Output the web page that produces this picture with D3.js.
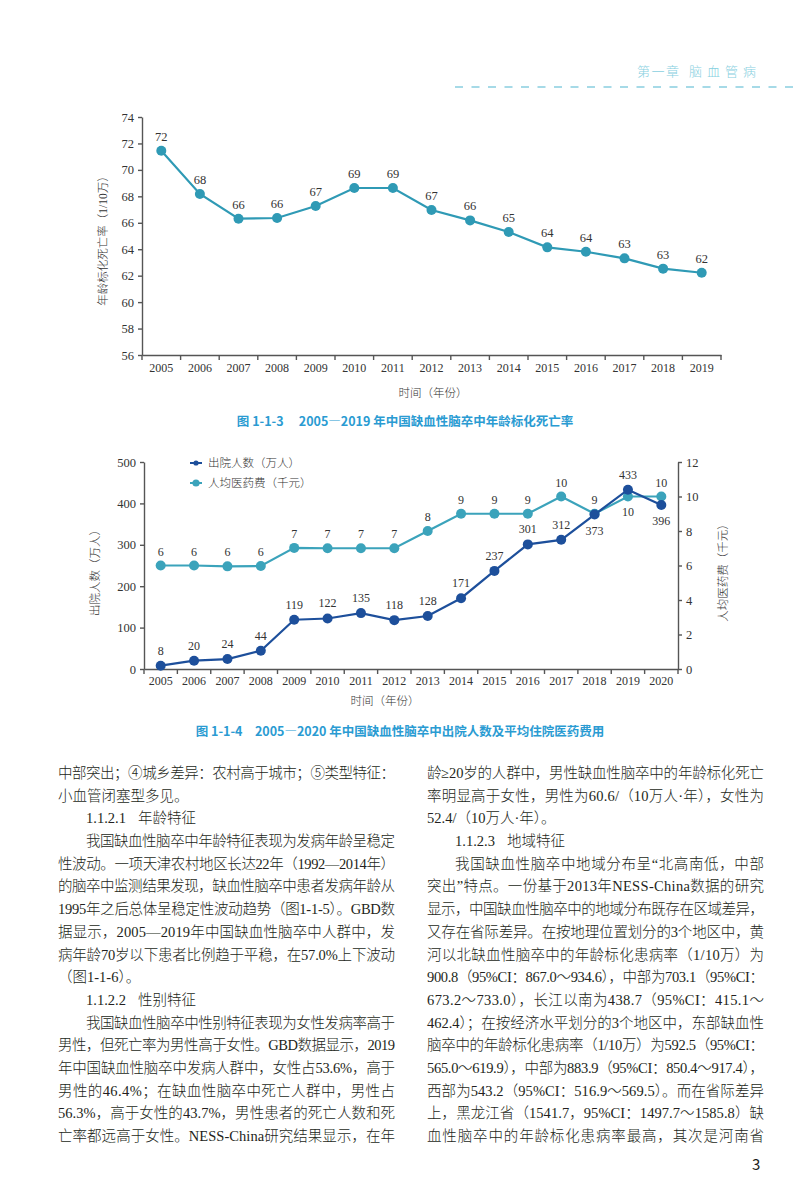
<!DOCTYPE html>
<html lang="zh-CN"><head><meta charset="utf-8">
<script src="https://cdn.jsdelivr.net/npm/d3@7"></script>
<style>
html,body{margin:0;padding:0;background:#fff;}
svg{display:block;}
</style></head><body>
<svg id="page" width="800" height="1200"></svg>
<script>
// ---------- DATA ----------
const years1 = [2005,2006,2007,2008,2009,2010,2011,2012,2013,2014,2015,2016,2017,2018,2019];
const rate1 = [71.45,68.18,66.31,66.36,67.27,68.63,68.63,66.97,66.18,65.30,64.14,63.81,63.31,62.53,62.22];
const rateLabels1 = ["72","68","66","66","67","69","69","67","66","65","64","64","63","63","62"];
const yTicks1 = [56,58,60,62,64,66,68,70,72,74];

const years2 = [2005,2006,2007,2008,2009,2010,2011,2012,2013,2014,2015,2016,2017,2018,2019,2020];
const discharged = [8,20,24,44,119,122,135,118,128,171,237,301,312,373,433,396];
const dischargedLabels = ["8","20","24","44","119","122","135","118","128","171","237","301","312","373","433","396"];
const cost = [6.0,6.0,5.95,5.97,7.02,7.0,7.0,7.0,8.0,9.0,9.0,9.0,10.0,9.0,10.0,10.0];
const costLabels = ["6","6","6","6","7","7","7","7","8","9","9","9","10","9","10","10"];
const yTicksLeft2 = [0,100,200,300,400,500];
const yTicksRight2 = [0,2,4,6,8,10,12];
const seriesNames2 = ["出院人数（万人）","人均医药费（千元）"];

// ---------- STYLE ----------
const SERIF = "'Liberation Serif','Times New Roman','Noto Sans CJK SC',serif";
const SANS = "'Noto Sans CJK SC','Noto Sans',sans-serif";
const TEAL = "#2f9ab5";
const TEAL2 = "#3ba3bb";
const BLUE = "#1d4f9b";
const AXIS = "#555";
const TXT = "#333";
const CAP = "#2a9bd2";

const svg = d3.select("#page");

// ---------- HEADER ----------
svg.append("text").attr("x",637).attr("y",70).attr("dominant-baseline","central")
  .style("font-family",SANS).style("font-size","13px").style("font-weight",300)
  .style("letter-spacing","1.5px").attr("fill","#86cfe0").text("第一章");
svg.append("text").attr("x",689).attr("y",70).attr("dominant-baseline","central")
  .style("font-family",SANS).style("font-size","13px").style("font-weight",300)
  .style("letter-spacing","5px").attr("fill","#86cfe0").text("脑血管病");
svg.append("line").attr("x1",455).attr("x2",800).attr("y1",87).attr("y2",87)
  .attr("stroke","#a6dae7").attr("stroke-width",2).attr("stroke-dasharray","8,8.5");

// ---------- CHART 1 ----------
(function(){
  const x = d3.scaleBand().domain(years1).range([142,721]);
  const y = d3.scaleLinear().domain([56,74]).range([355,117]);
  const g = svg.append("g");

  const ya = g.append("g").attr("transform","translate(142,0)")
    .call(d3.axisLeft(y).tickValues(yTicks1).tickSize(4).tickSizeOuter(0).tickPadding(4));
  ya.select(".domain").attr("stroke",AXIS).attr("stroke-width",1.4);
  ya.selectAll(".tick line").attr("stroke",AXIS).attr("stroke-width",1.4);
  ya.selectAll(".tick text").style("font-family",SERIF).style("font-size","12.5px").attr("fill",TXT);

  const xa = g.append("g").attr("transform","translate(0,355)")
    .call(d3.axisBottom(x).tickSize(0).tickSizeOuter(0).tickPadding(8));
  xa.select(".domain").attr("stroke",AXIS).attr("stroke-width",1.4);
  xa.selectAll(".tick text").style("font-family",SERIF).style("font-size","12px").attr("fill",TXT);
  const edges1 = years1.map(d=>x(d)).concat([x(years1[years1.length-1])+x.bandwidth()]);
  g.selectAll("line.xt").data(edges1).join("line").attr("class","xt")
    .attr("x1",d=>d).attr("x2",d=>d).attr("y1",355).attr("y2",360)
    .attr("stroke",AXIS).attr("stroke-width",1.4);

  const cx = d=>x(d)+x.bandwidth()/2;
  const line = d3.line().x((d,i)=>cx(years1[i])).y(d=>y(d));
  g.append("path").datum(rate1).attr("d",line).attr("fill","none").attr("stroke",TEAL).attr("stroke-width",2.2);
  g.selectAll("circle").data(rate1).join("circle")
    .attr("cx",(d,i)=>cx(years1[i])).attr("cy",d=>y(d)).attr("r",5).attr("fill",TEAL);
  g.selectAll("text.lbl").data(rate1).join("text").attr("class","lbl")
    .attr("x",(d,i)=>cx(years1[i])).attr("y",d=>y(d)-14).attr("text-anchor","middle")
    .attr("dominant-baseline","central")
    .style("font-family",SERIF).style("font-size","12.5px").attr("fill",TXT)
    .text((d,i)=>rateLabels1[i]);

  g.append("text").attr("transform","translate(103,238) rotate(-90)").attr("text-anchor","middle")
    .attr("dominant-baseline","central")
    .style("font-family",SERIF).style("font-size","11.5px").style("font-weight",300).attr("fill",TXT).text("年龄标化死亡率（1/10万）");
  g.append("text").attr("x",433).attr("y",393).attr("text-anchor","middle").attr("dominant-baseline","central")
    .style("font-family",SERIF).style("font-size","11.5px").style("font-weight",300).attr("fill",TXT).text("时间（年份）");
  g.append("text").attr("x",405).attr("y",420).attr("text-anchor","middle").attr("dominant-baseline","central")
    .style("font-family",SANS).style("font-size","12.5px").style("font-weight",700).attr("fill",CAP)
    .text("图 1-1-3　 2005—2019 年中国缺血性脑卒中年龄标化死亡率");
})();

// ---------- CHART 2 ----------
(function(){
  const x = d3.scaleBand().domain(years2).range([144,678]);
  const yL = d3.scaleLinear().domain([0,500]).range([669,462]);
  const yR = d3.scaleLinear().domain([0,12]).range([669,462]);
  const g = svg.append("g");

  const la = g.append("g").attr("transform","translate(144,0)")
    .call(d3.axisLeft(yL).tickValues(yTicksLeft2).tickSize(4).tickSizeOuter(0).tickPadding(4));
  const ra = g.append("g").attr("transform","translate(678,0)")
    .call(d3.axisRight(yR).tickValues(yTicksRight2).tickSize(4).tickSizeOuter(0).tickPadding(4));
  const xa = g.append("g").attr("transform","translate(0,669)")
    .call(d3.axisBottom(x).tickSize(0).tickSizeOuter(0).tickPadding(7));
  [la,ra,xa].forEach(a=>{
    a.select(".domain").attr("stroke",AXIS).attr("stroke-width",1.4);
    a.selectAll(".tick line").attr("stroke",AXIS).attr("stroke-width",1.4);
    a.selectAll(".tick text").style("font-family",SERIF).style("font-size","12.5px").attr("fill",TXT);
  });
  xa.selectAll(".tick text").style("font-size","12px");
  const edges2 = years2.map(d=>x(d)).concat([x(years2[years2.length-1])+x.bandwidth()]);
  g.selectAll("line.xt").data(edges2).join("line").attr("class","xt")
    .attr("x1",d=>d).attr("x2",d=>d).attr("y1",669).attr("y2",674)
    .attr("stroke",AXIS).attr("stroke-width",1.4);

  const cx = d=>x(d)+x.bandwidth()/2;

  // cost series (teal)
  g.append("path").datum(cost).attr("d",d3.line().x((d,i)=>cx(years2[i])).y(d=>yR(d)))
    .attr("fill","none").attr("stroke",TEAL2).attr("stroke-width",2.2);
  g.selectAll("circle.c").data(cost).join("circle").attr("class","c")
    .attr("cx",(d,i)=>cx(years2[i])).attr("cy",d=>yR(d)).attr("r",5).attr("fill",TEAL2);

  // discharged series (blue)
  g.append("path").datum(discharged).attr("d",d3.line().x((d,i)=>cx(years2[i])).y(d=>yL(d)))
    .attr("fill","none").attr("stroke",BLUE).attr("stroke-width",2.2);
  g.selectAll("circle.d").data(discharged).join("circle").attr("class","d")
    .attr("cx",(d,i)=>cx(years2[i])).attr("cy",d=>yL(d)).attr("r",5).attr("fill",BLUE);

  const belowD = new Set([2018,2020]);
  const belowC = new Set([2019]);
  g.selectAll("text.ld").data(discharged).join("text").attr("class","ld")
    .attr("x",(d,i)=>cx(years2[i]))
    .attr("y",(d,i)=>yL(d)+(belowD.has(years2[i])?16:-15))
    .attr("text-anchor","middle").attr("dominant-baseline","central")
    .style("font-family",SERIF).style("font-size","12px").attr("fill",TXT)
    .text((d,i)=>dischargedLabels[i]);
  g.selectAll("text.lc").data(cost).join("text").attr("class","lc")
    .attr("x",(d,i)=>cx(years2[i]))
    .attr("y",(d,i)=>yR(d)+(belowC.has(years2[i])?15:-14))
    .attr("text-anchor","middle").attr("dominant-baseline","central")
    .style("font-family",SERIF).style("font-size","12px").attr("fill",TXT)
    .text((d,i)=>costLabels[i]);

  // legend
  const leg = g.append("g");
  [[BLUE,2.6,463],[TEAL2,3.6,483]].forEach((s,i)=>{
    leg.append("line").attr("x1",190).attr("x2",202).attr("y1",s[2]).attr("y2",s[2])
      .attr("stroke",s[0]).attr("stroke-width",2);
    leg.append("circle").attr("cx",196).attr("cy",s[2]).attr("r",s[1]).attr("fill",s[0]);
    leg.append("text").attr("x",208).attr("y",s[2]).attr("dominant-baseline","central")
      .style("font-family",SERIF).style("font-size","11.5px").style("font-weight",300).attr("fill",TXT).text(seriesNames2[i]);
  });

  g.append("text").attr("transform","translate(95,570) rotate(-90)").attr("text-anchor","middle")
    .attr("dominant-baseline","central")
    .style("font-family",SERIF).style("font-size","11.5px").style("font-weight",300).attr("fill",TXT).text(seriesNames2[0]);
  g.append("text").attr("transform","translate(723,570) rotate(-90)").attr("text-anchor","middle")
    .attr("dominant-baseline","central")
    .style("font-family",SERIF).style("font-size","11.5px").style("font-weight",300).attr("fill",TXT).text(seriesNames2[1]);
  g.append("text").attr("x",385).attr("y",701).attr("text-anchor","middle").attr("dominant-baseline","central")
    .style("font-family",SERIF).style("font-size","11.5px").style("font-weight",300).attr("fill",TXT).text("时间（年份）");
  g.append("text").attr("x",400).attr("y",730).attr("text-anchor","middle").attr("dominant-baseline","central")
    .style("font-family",SANS).style("font-size","12.5px").style("font-weight",700).attr("fill",CAP)
    .text("图 1-1-4　2005—2020 年中国缺血性脑卒中出院人数及平均住院医药费用");
})();

// ---------- BODY TEXT ----------
const leftLines = [
  {t:"中部突出；④城乡差异：农村高于城市；⑤类型特征：",j:1},
  {t:"小血管闭塞型多见。"},
  {num:"1.1.2.1",t:"年龄特征"},
  {t:"我国缺血性脑卒中年龄特征表现为发病年龄呈稳定",ind:1,j:1},
  {t:"性波动。一项天津农村地区长达22年（1992—2014年）",j:1},
  {t:"的脑卒中监测结果发现，缺血性脑卒中患者发病年龄从",j:1},
  {t:"1995年之后总体呈稳定性波动趋势（图1-1-5）。GBD数",j:1},
  {t:"据显示，2005—2019年中国缺血性脑卒中人群中，发",j:1},
  {t:"病年龄70岁以下患者比例趋于平稳，在57.0%上下波动",j:1},
  {t:"（图1-1-6）。"},
  {num:"1.1.2.2",t:"性别特征"},
  {t:"我国缺血性脑卒中性别特征表现为女性发病率高于",ind:1,j:1},
  {t:"男性，但死亡率为男性高于女性。GBD数据显示，2019",j:1},
  {t:"年中国缺血性脑卒中发病人群中，女性占53.6%，高于",j:1},
  {t:"男性的46.4%；在缺血性脑卒中死亡人群中，男性占",j:1},
  {t:"56.3%，高于女性的43.7%，男性患者的死亡人数和死",j:1},
  {t:"亡率都远高于女性。NESS-China研究结果显示，在年",j:1}
];
const rightLines = [
  {t:"龄≥20岁的人群中，男性缺血性脑卒中的年龄标化死亡",j:1},
  {t:"率明显高于女性，男性为60.6/（10万人·年），女性为",j:1},
  {t:"52.4/（10万人·年）。"},
  {num:"1.1.2.3",t:"地域特征"},
  {t:"我国缺血性脑卒中地域分布呈“北高南低，中部",ind:1,j:1},
  {t:"突出”特点。一份基于2013年NESS-China数据的研究",j:1},
  {t:"显示，中国缺血性脑卒中的地域分布既存在区域差异，",j:1},
  {t:"又存在省际差异。在按地理位置划分的3个地区中，黄",j:1},
  {t:"河以北缺血性脑卒中的年龄标化患病率（1/10万）为",j:1},
  {t:"900.8（95%CI：867.0～934.6），中部为703.1（95%CI：",j:1},
  {t:"673.2～733.0），长江以南为438.7（95%CI：415.1～",j:1},
  {t:"462.4）；在按经济水平划分的3个地区中，东部缺血性",j:1},
  {t:"脑卒中的年龄标化患病率（1/10万）为592.5（95%CI：",j:1},
  {t:"565.0～619.9），中部为883.9（95%CI：850.4～917.4），",j:1},
  {t:"西部为543.2（95%CI：516.9～569.5）。而在省际差异",j:1},
  {t:"上，黑龙江省（1541.7，95%CI：1497.7～1585.8）缺",j:1},
  {t:"血性脑卒中的年龄标化患病率最高，其次是河南省",j:1}
];
function drawColumn(lines, x0, width){
  const g = svg.append("g").style("font-family",SERIF).style("font-size","14.5px")
    .style("font-weight",300).attr("fill","#231f20");
  lines.forEach((l,i)=>{
    const yy = 773 + i*22.69;
    if(l.num){
      g.append("text").attr("x",x0+28).attr("y",yy).attr("dominant-baseline","central").text(l.num);
      g.append("text").attr("x",x0+80).attr("y",yy).attr("dominant-baseline","central").text(l.t);
      return;
    }
    const xs = x0 + (l.ind?28:0);
    const t = g.append("text").attr("x",xs).attr("y",yy).attr("dominant-baseline","central").text(l.t);
    if(l.j){ t.attr("textLength", width-(l.ind?28:0)).attr("lengthAdjust","spacing"); }
  });
}
drawColumn(leftLines, 58, 337);
drawColumn(rightLines, 427, 337);

svg.append("text").attr("x",752).attr("y",1163).attr("dominant-baseline","central")
  .style("font-family",SANS).style("font-size","15px").attr("fill","#231f20").text("3");
</script>
</body></html>
